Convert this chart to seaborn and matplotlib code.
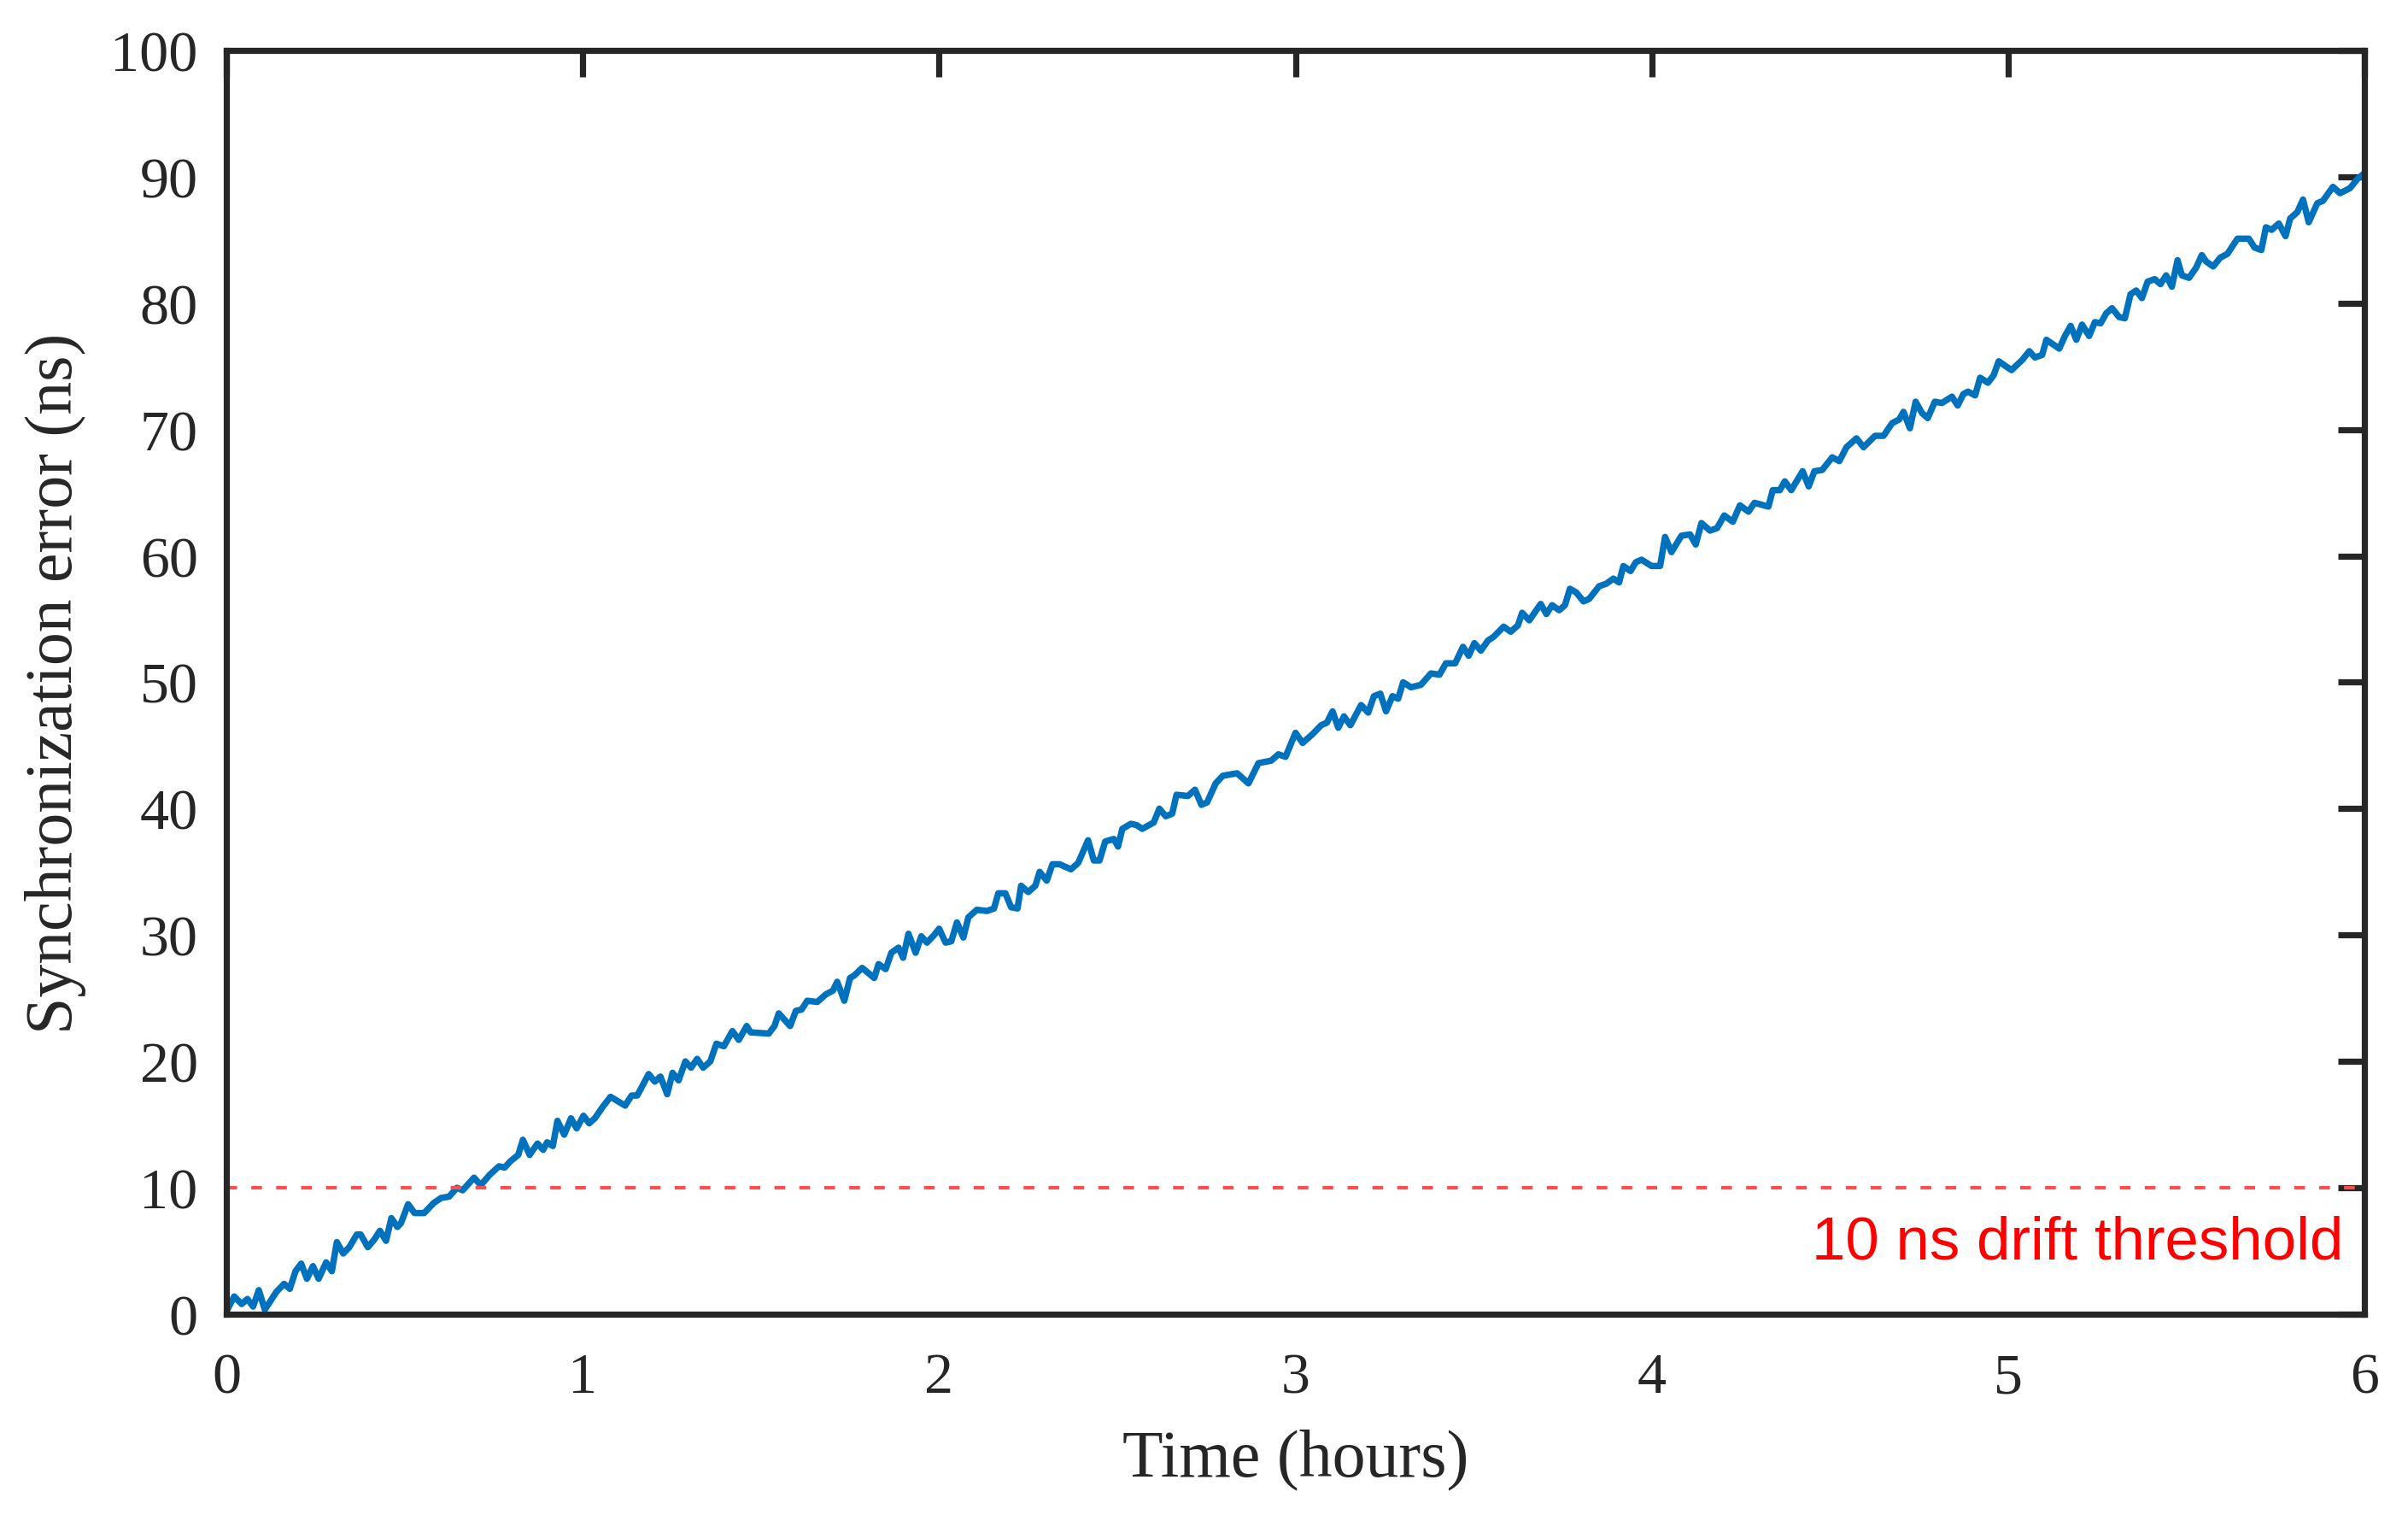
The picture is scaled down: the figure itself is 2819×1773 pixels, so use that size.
import numpy as np
import pandas as pd
import matplotlib
matplotlib.use("Agg")
import matplotlib.pyplot as plt
import seaborn as sns

# values (hours, ns)
time_h = [
    0.000, 0.022, 0.043, 0.059, 0.075, 0.091, 0.108, 0.140, 0.162, 0.178,
    0.194, 0.210, 0.226, 0.243, 0.259, 0.280, 0.296, 0.310, 0.328, 0.345,
    0.366, 0.377, 0.397, 0.415, 0.431, 0.448, 0.463, 0.480, 0.490, 0.510,
    0.528, 0.555, 0.582, 0.603, 0.625, 0.647, 0.663, 0.695, 0.714, 0.738,
    0.765, 0.781, 0.797, 0.819, 0.832, 0.851, 0.873, 0.889, 0.900, 0.916,
    0.929, 0.948, 0.967, 0.983, 1.002, 1.018, 1.034, 1.056, 1.078, 1.119,
    1.137, 1.153, 1.185, 1.202, 1.218, 1.237, 1.252, 1.269, 1.288, 1.304,
    1.321, 1.338, 1.358, 1.375, 1.396, 1.420, 1.438, 1.460, 1.471,
    1.522, 1.538, 1.550, 1.582, 1.598, 1.614, 1.630, 1.658, 1.682, 1.702,
    1.714, 1.734, 1.750, 1.762, 1.784, 1.818, 1.830, 1.850, 1.866, 1.886,
    1.899, 1.914, 1.934, 1.950, 1.966, 1.986, 2.000, 2.018, 2.034, 2.050,
    2.068, 2.082, 2.106, 2.134, 2.154, 2.166, 2.186, 2.202, 2.220, 2.230,
    2.250, 2.270, 2.282, 2.302, 2.318, 2.338, 2.370, 2.390, 2.418, 2.434,
    2.450, 2.466, 2.490, 2.502, 2.514, 2.538, 2.554, 2.570, 2.602, 2.618,
    2.636, 2.654, 2.666, 2.698, 2.718,
    2.736, 2.752, 2.776, 2.796, 2.836, 2.868, 2.896, 2.932, 2.952, 2.972,
    3.000, 3.020, 3.048, 3.072, 3.088, 3.104, 3.120, 3.136, 3.154, 3.184,
    3.204, 3.220, 3.238, 3.254, 3.272, 3.288, 3.302, 3.324, 3.352, 3.380,
    3.404, 3.422, 3.448, 3.470, 3.486, 3.502, 3.520, 3.540, 3.556, 3.584,
    3.604, 3.624, 3.636, 3.656, 3.688, 3.704, 3.720, 3.740, 3.756, 3.770,
    3.788, 3.808, 3.824, 3.852, 3.872, 3.892, 3.908, 3.920, 3.940,
    3.955, 3.971, 3.999, 4.023, 4.037, 4.055, 4.083, 4.107, 4.123, 4.139,
    4.163, 4.183, 4.203, 4.227, 4.247, 4.271, 4.288, 4.327, 4.339, 4.359,
    4.373, 4.391, 4.423, 4.440, 4.456, 4.478, 4.506, 4.526, 4.546, 4.574,
    4.594, 4.626, 4.650, 4.674, 4.694, 4.706, 4.724, 4.740, 4.758, 4.774,
    4.794, 4.814, 4.842, 4.858, 4.874,
    4.887, 4.907, 4.921, 4.943, 4.959, 4.973, 5.009, 5.039, 5.059, 5.075,
    5.095, 5.107, 5.143, 5.159, 5.175, 5.191, 5.207, 5.227, 5.243, 5.259,
    5.275, 5.291, 5.311, 5.327, 5.343, 5.359, 5.375, 5.391, 5.411, 5.427,
    5.443, 5.459, 5.475, 5.487, 5.507, 5.527, 5.543, 5.555, 5.575, 5.595,
    5.615, 5.643, 5.675, 5.691, 5.710, 5.723, 5.739, 5.759, 5.778, 5.791,
    5.811, 5.827, 5.843, 5.867, 5.883, 5.911, 5.931, 5.959, 5.979, 6.000,
]

error_ns = [
    0.2, 1.4, 0.8, 1.2, 0.6, 1.9, 0.35, 1.75, 2.4, 2.0,
    3.4, 4.0, 2.8, 3.8, 2.8, 4.1, 3.4, 5.7, 4.8, 5.3,
    6.3, 6.3, 5.3, 5.9, 6.6, 5.8, 7.6, 6.9, 7.2, 8.7,
    8.0, 8.0, 8.8, 9.2, 9.3, 10.0, 9.8, 10.8, 10.2, 11.0,
    11.7, 11.6, 12.1, 12.6, 13.8, 12.6, 13.5, 13.0, 13.6, 13.3,
    15.3, 14.2, 15.5, 14.7, 15.7, 15.1, 15.5, 16.4, 17.2, 16.5,
    17.3, 17.3, 19.0, 18.4, 18.8, 17.4, 19.1, 18.5, 20.0, 19.5,
    20.2, 19.5, 20.0, 21.4, 21.2, 22.4, 21.7, 22.8, 22.3,
    22.2, 22.8, 23.8, 22.8, 24.0, 24.1, 24.8, 24.7, 25.3, 25.6,
    26.3, 24.8, 26.6, 26.8, 27.4, 26.6, 27.7, 27.3, 28.6, 29.0,
    28.2, 30.1, 28.6, 29.9, 29.4, 30.0, 30.5, 29.4, 29.5, 31.0,
    29.8, 31.4, 32.0, 31.9, 32.1, 33.3, 33.3, 32.2, 32.1, 33.9,
    33.4, 33.9, 35.0, 34.3, 35.6, 35.6, 35.2, 35.7, 37.5, 35.9,
    35.9, 37.4, 37.6, 37.0, 38.4, 38.8, 38.7, 38.4, 38.9, 40.0,
    39.4, 39.6, 41.1, 41.0, 41.5,
    40.3, 40.5, 42.0, 42.6, 42.8, 42.0, 43.6, 43.8, 44.3, 44.1,
    46.0, 45.2, 45.9, 46.6, 46.8, 47.7, 46.4, 47.3, 46.6, 48.2,
    47.6, 48.9, 49.1, 47.7, 48.9, 48.7, 50.0, 49.6, 49.8, 50.7,
    50.6, 51.5, 51.5, 52.8, 52.1, 53.1, 52.5, 53.3, 53.6, 54.4,
    54.0, 54.5, 55.5, 54.9, 56.2, 55.4, 56.1, 55.7, 56.1, 57.4,
    57.1, 56.4, 56.6, 57.6, 57.8, 58.2, 57.9, 59.2, 58.8,
    59.5, 59.7, 59.2, 59.2, 61.5, 60.3, 61.6, 61.7, 60.9, 62.6,
    62.0, 62.2, 63.2, 62.7, 64.0, 63.5, 64.2, 63.9, 65.2, 65.2,
    65.9, 65.2, 66.7, 65.5, 66.7, 66.8, 67.8, 67.5, 68.6, 69.3,
    68.6, 69.5, 69.5, 70.5, 70.8, 71.4, 70.1, 72.2, 71.3, 70.9,
    72.2, 72.1, 72.6, 71.9, 72.8,
    73.0, 72.7, 74.1, 73.7, 74.3, 75.4, 74.7, 75.5, 76.2, 75.7,
    75.9, 77.1, 76.4, 77.4, 78.2, 77.1, 78.3, 77.4, 78.5, 78.4,
    79.2, 79.6, 78.9, 78.8, 80.7, 81.0, 80.4, 81.7, 81.9, 81.5,
    82.2, 81.3, 83.4, 82.2, 82.0, 82.8, 83.8, 83.3, 82.9, 83.6,
    83.9, 85.1, 85.1, 84.4, 84.2, 86.0, 85.8, 86.3, 85.3, 86.7,
    87.2, 88.2, 86.4, 87.9, 88.1, 89.2, 88.7, 89.1, 89.8, 90.3,
]

threshold_ns = 10
threshold_label = "10 ns drift threshold"
x_ticks = [0, 1, 2, 3, 4, 5, 6]
y_ticks = list(range(0, 101, 10))

dark = "#262626"

sns.set_theme(style="white")
plt.rcParams["font.family"] = ["Liberation Serif", "DejaVu Serif"]

df = pd.DataFrame({"time_h": time_h, "error_ns": error_ns})

fig = plt.figure(figsize=(2819 / 200, 1774 / 200), dpi=200)
ax = fig.add_axes([0.094, 0.1325, 0.888, 0.8337])

sns.lineplot(data=df, x="time_h", y="error_ns", ax=ax, color="#0072BD",
             linewidth=2.7, estimator=None, sort=False)

ax.axhline(threshold_ns, color="#FF4D4D", linewidth=1.5, dashes=(3, 4))
ax.text(5.94, 4.4, threshold_label, color="red", ha="right", va="baseline",
        fontsize=25.5, family=["Liberation Sans", "DejaVu Sans"])

ax.set_xlim(0, 6)
ax.set_ylim(0, 100)
ax.set_xticks(x_ticks)
ax.set_yticks(y_ticks)

ax.tick_params(direction="in", length=11, width=2.6, top=True, right=True,
               labelsize=24.5, colors=dark)
ax.tick_params(axis="x", pad=16)
ax.tick_params(axis="y", pad=12)
for s in ax.spines.values():
    s.set_visible(True)
    s.set_linewidth(2.6)
    s.set_color(dark)

ax.set_xlabel("Time (hours)", fontsize=28, color=dark, labelpad=10)
ax.set_ylabel("Synchronization error (ns)", fontsize=28, color=dark, labelpad=10)

fig.savefig("out.png", dpi=200, facecolor="white")
plt.close(fig)
